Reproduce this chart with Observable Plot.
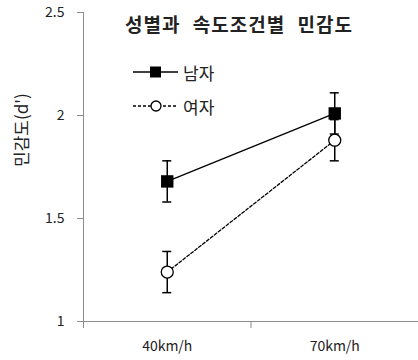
<!DOCTYPE html>
<html><head><meta charset="utf-8">
<script src="https://cdn.jsdelivr.net/npm/d3@7"></script>
<script src="https://cdn.jsdelivr.net/npm/@observablehq/plot@0.6"></script>
<style>
body{margin:0;background:#fff;}
#wrap{position:relative;width:418px;height:360px;font-family:"Noto Sans CJK KR","Noto Sans",sans-serif;}
#legend{position:absolute;left:0;top:0;pointer-events:none;}
</style></head><body><div id="wrap"></div>
<script>
const categories = ["40km/h", "70km/h"];
const seriesNames = ["남자", "여자"];
const maleMeans = [1.68, 2.01];
const maleErr = [0.10, 0.10];
const femaleMeans = [1.24, 1.88];
const femaleErr = [0.10, 0.10];
const yTicks = [1, 1.5, 2, 2.5];
const title = "성별과 속도조건별 민감도";
const yLabel = "민감도(d')";

const mk = (name, means, errs) => means.map((m, i) => ({series: name, x: i + 0.5, mean: m, lo: m - errs[i], hi: m + errs[i]}));
const male = mk(seriesNames[0], maleMeans, maleErr);
const female = mk(seriesNames[1], femaleMeans, femaleErr);
const all = male.concat(female);
const axisColor = "#8c8c8c";
const font = "Noto Sans CJK KR";

const chart = Plot.plot({
  width: 418, height: 360,
  marginLeft: 83, marginRight: 0, marginTop: 12, marginBottom: 39,
  style: {fontFamily: font, color: "#222", background: "white"},
  x: {type: "linear", domain: [0, categories.length], axis: null},
  y: {domain: [1, 2.5], axis: null},
  marks: [
    Plot.ruleX([0], {stroke: axisColor, strokeWidth: 1}),
    Plot.ruleY([1], {stroke: axisColor, strokeWidth: 1}),
    Plot.axisY({ticks: yTicks, tickSize: 6, tickPadding: 13, stroke: axisColor, fontSize: 14, tickFormat: d => String(d), label: null}),
    Plot.axisX({ticks: d3.range(categories.length + 1), tickSize: 7, tickFormat: () => "", stroke: axisColor, label: null}),
    Plot.axisX({ticks: categories.map((c, i) => i + 0.5), tickSize: 0, tickPadding: 20, fontSize: 14, tickFormat: d => categories[Math.round(d - 0.5)], label: null}),
    Plot.text([yLabel], {frameAnchor: "left", rotate: -90, dx: -61, fontSize: 17}),
    Plot.text([title], {frameAnchor: "top", lineAnchor: "middle", dx: -12, dy: 13, fontSize: 19, fontWeight: "bold", className: "ttl"}),
    Plot.line(male, {x: "x", y: "mean", stroke: "black", strokeWidth: 1.3}),
    Plot.line(female, {x: "x", y: "mean", stroke: "black", strokeWidth: 1.3, strokeDasharray: "3,2"}),
    Plot.ruleX(all, {x: "x", y1: "lo", y2: "hi", stroke: "black", strokeWidth: 1.5}),
    Plot.ruleY(all, {y: "hi", x1: "x", x2: "x", insetLeft: -4.5, insetRight: -4.5, stroke: "black", strokeWidth: 1.5}),
    Plot.ruleY(all, {y: "lo", x1: "x", x2: "x", insetLeft: -4.5, insetRight: -4.5, stroke: "black", strokeWidth: 1.5}),
    Plot.dot(male, {x: "x", y: "mean", symbol: "square", r: 7, fill: "black"}),
    Plot.dot(female, {x: "x", y: "mean", symbol: "circle", r: 6, fill: "white", stroke: "black", strokeWidth: 1.3})
  ]
});
chart.querySelectorAll(".ttl text").forEach(t => { t.style.wordSpacing = "7px"; t.style.letterSpacing = "1px"; });
const wrap = document.getElementById("wrap");
wrap.appendChild(chart);

// Legend overlay
const ns = "http://www.w3.org/2000/svg";
const lg = document.createElementNS(ns, "svg");
lg.setAttribute("id", "legend");
lg.setAttribute("width", 418); lg.setAttribute("height", 360);
function el(tag, attrs, text) {
  const e = document.createElementNS(ns, tag);
  for (const k in attrs) e.setAttribute(k, attrs[k]);
  if (text) e.textContent = text;
  lg.appendChild(e);
  return e;
}
const lx0 = 133, lx1 = 178, ly = [72, 106];
el("line", {x1: lx0, x2: lx1, y1: ly[0], y2: ly[0], stroke: "black", "stroke-width": 1.3});
el("rect", {x: 150, y: ly[0] - 5.5, width: 11, height: 11, fill: "black"});
el("text", {x: 183, y: ly[0], "dominant-baseline": "central", "font-size": 17, "font-family": font, fill: "#222"}, seriesNames[0]);
el("line", {x1: lx0, x2: lx1, y1: ly[1], y2: ly[1], stroke: "black", "stroke-width": 1.3, "stroke-dasharray": "3,2"});
el("circle", {cx: 156, cy: ly[1], r: 5, fill: "white", stroke: "black", "stroke-width": 1.3});
el("text", {x: 183, y: ly[1], "dominant-baseline": "central", "font-size": 17, "font-family": font, fill: "#222"}, seriesNames[1]);
wrap.appendChild(lg);
</script></body></html>
